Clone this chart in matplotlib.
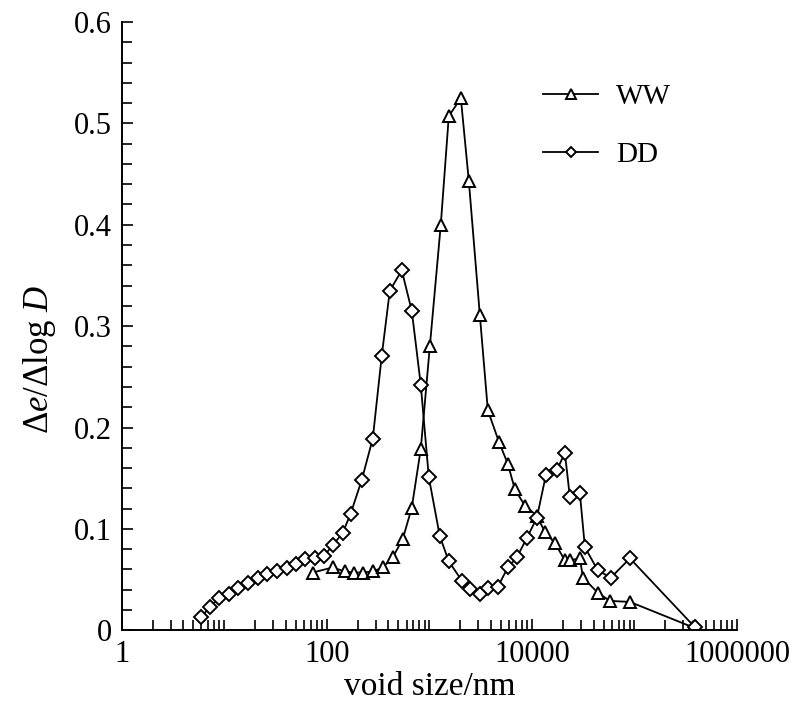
import numpy as np
import matplotlib.pyplot as plt
from matplotlib.ticker import LogLocator, FixedLocator, MultipleLocator, NullFormatter

plt.rcParams['font.family'] = ['Liberation Serif', 'DejaVu Serif']
plt.rcParams['mathtext.fontset'] = 'custom'
plt.rcParams['mathtext.rm'] = 'Liberation Serif'
plt.rcParams['mathtext.it'] = 'Liberation Serif:italic'

# WW series
ww_x = [73, 114.5, 150, 183, 224, 281, 352, 440, 551, 675, 826, 1012, 1294, 1549,
        2030, 2430, 3110, 3722, 4770, 5835, 6830, 8550, 11190, 13400, 16760,
        21000, 23500, 29400, 31500, 44000, 57700, 90400, 372000]
ww_y = [0.057, 0.062, 0.058, 0.057, 0.057, 0.058, 0.062, 0.072, 0.090, 0.121, 0.179,
        0.280, 0.400, 0.507, 0.525, 0.443, 0.311, 0.217, 0.186, 0.164, 0.139,
        0.123, 0.113, 0.097, 0.086, 0.069, 0.069, 0.071, 0.052, 0.037, 0.029,
        0.028, 0.003]

# DD series
dd_x = [6.0, 7.2, 9.0, 11.1, 13.5, 17.0, 21.2, 26.0, 32.5, 40.7, 49.9, 61.0, 76.4,
        93.5, 114.5, 143, 171, 219, 281, 344, 412, 539, 675, 826, 989, 1265, 1549,
        2075, 2483, 3110, 3722, 4660, 5835, 7140, 8940, 11190, 13700, 17530,
        21000, 23500, 29400, 32900, 44000, 59000, 90400, 389000]
dd_y = [0.013, 0.023, 0.032, 0.036, 0.042, 0.047, 0.052, 0.056, 0.058, 0.061, 0.065,
        0.070, 0.071, 0.073, 0.084, 0.096, 0.115, 0.148, 0.189, 0.271, 0.335,
        0.355, 0.315, 0.242, 0.151, 0.093, 0.068, 0.049, 0.041, 0.036, 0.042,
        0.043, 0.062, 0.072, 0.091, 0.111, 0.153, 0.158, 0.175, 0.131, 0.135,
        0.082, 0.059, 0.052, 0.071, 0.003]

x_ticks = [1, 100, 1e4, 1e6]
x_ticklabels = ['1', '100', '10000', '1000000']
y_ticks = [0, 0.1, 0.2, 0.3, 0.4, 0.5, 0.6]
y_ticklabels = ['0', '0.1', '0.2', '0.3', '0.4', '0.5', '0.6']

fig = plt.figure(figsize=(7.95, 7.09), dpi=100)
ax = fig.add_axes([0.153, 0.111, 0.774, 0.858])

ax.plot(ww_x, ww_y, color='k', lw=1.3, marker='^', ms=9, mfc='white',
        mec='k', mew=1.4, label='WW')
ax.plot(dd_x, dd_y, color='k', lw=1.3, marker='D', ms=7, mfc='white',
        mec='k', mew=1.4, label='DD')

ax.set_xscale('log')
ax.set_xlim(1, 1e6)
ax.set_ylim(0, 0.6)

ax.xaxis.set_major_locator(FixedLocator(x_ticks))
ax.set_xticklabels(x_ticklabels)
ax.xaxis.set_minor_locator(LogLocator(base=10, subs=np.arange(1, 10), numticks=20))
ax.xaxis.set_minor_formatter(NullFormatter())

ax.set_yticks(y_ticks)
ax.set_yticklabels(y_ticklabels)
ax.yaxis.set_minor_locator(MultipleLocator(0.02))

ax.tick_params(which='both', direction='in', width=1.2, labelsize=22)
ax.tick_params(which='major', length=8)
ax.tick_params(which='minor', length=7)
ax.tick_params(axis='x', which='major', pad=7)
ax.tick_params(axis='y', which='major', pad=7)

for s in ['top', 'right']:
    ax.spines[s].set_visible(False)
for s in ['left', 'bottom']:
    ax.spines[s].set_linewidth(1.4)

ax.set_xlabel('void size/nm', fontsize=24, labelpad=2)
ax.set_ylabel(r'$\Delta e$/$\Delta$log $D$', fontsize=25)
ax.yaxis.set_label_coords(-0.104, 0.446)

ax.legend(loc='center left', bbox_to_anchor=(543 / 795, 1 - 126 / 709),
          bbox_transform=fig.transFigure, frameon=False, borderpad=0,
          borderaxespad=0, fontsize=21, labelspacing=1.1, handlelength=1.9,
          handletextpad=0.6, markerscale=0.8)

fig.savefig('out.png', dpi=100)
